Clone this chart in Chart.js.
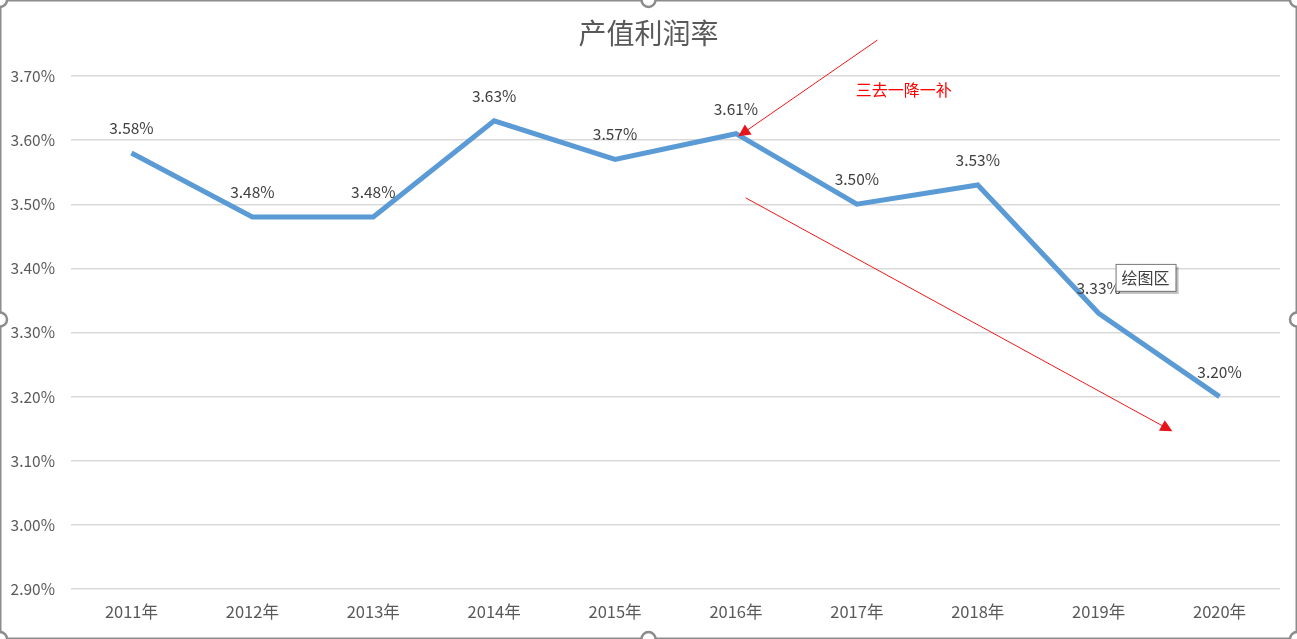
<!DOCTYPE html>
<html>
<head>
<meta charset="utf-8">
<script src="https://cdn.jsdelivr.net/npm/chart.js@4"></script>
<style>
  html, body { margin: 0; padding: 0; background: #fff; }
  #wrap { width: 1297px; height: 639px; position: relative; }
</style>
</head>
<body>
<div id="wrap"><canvas id="lineChart" width="1297" height="639"></canvas></div>
<script>
// data
var years = ['2011年', '2012年', '2013年', '2014年', '2015年', '2016年', '2017年', '2018年', '2019年', '2020年'];
var rates = [3.58, 3.48, 3.48, 3.63, 3.57, 3.61, 3.50, 3.53, 3.33, 3.20];
var yMin = 2.9, yMax = 3.7, yStep = 0.1;
var titleText = '产值利润率';

// annotations in data space: [index, value]
var arrows = [
  { from: [6.17, 3.756], to: [5.02, 3.606] },
  { from: [5.08, 3.51], to: [8.61, 3.146] }
];
var noteText = '三去一降一补';
var notePos = [5.99, 3.678];
var boxText = '绘图区';
var boxPos = [8.14, 3.407];

var FONT = "'Noto Sans CJK SC', 'Noto Sans', sans-serif";

function px(chart, p) {
  return { x: chart.scales.x.getPixelForValue(p[0]), y: chart.scales.y.getPixelForValue(p[1]) };
}

var labelPlugin = {
  id: 'pointLabels',
  afterDatasetsDraw: function (chart) {
    var ctx = chart.ctx;
    var meta = chart.getDatasetMeta(0);
    ctx.save();
    ctx.font = '15.5px ' + FONT;
    ctx.fillStyle = '#404040';
    ctx.textAlign = 'center';
    ctx.textBaseline = 'middle';
    meta.data.forEach(function (pt, i) {
      ctx.fillText(rates[i].toFixed(2) + '%', pt.x, pt.y - 25);
    });
    ctx.restore();
  }
};

var extrasPlugin = {
  id: 'extras',
  afterDraw: function (chart) {
    var ctx = chart.ctx;
    var W = chart.width, H = chart.height;
    ctx.save();
    // title, centred on the whole chart
    ctx.font = '28px ' + FONT;
    ctx.fillStyle = '#595959';
    ctx.textAlign = 'center';
    ctx.textBaseline = 'middle';
    ctx.fillText(titleText, W / 2, 33);
    // red arrows
    arrows.forEach(function (a) {
      var f = px(chart, a.from), t = px(chart, a.to);
      var ang = Math.atan2(t.y - f.y, t.x - f.x);
      ctx.strokeStyle = '#f01818';
      ctx.lineWidth = 1;
      ctx.beginPath();
      ctx.moveTo(f.x, f.y);
      ctx.lineTo(t.x - 8 * Math.cos(ang), t.y - 8 * Math.sin(ang));
      ctx.stroke();
      ctx.fillStyle = '#e8141c';
      ctx.beginPath();
      ctx.moveTo(t.x, t.y);
      ctx.lineTo(t.x - 12 * Math.cos(ang) + 6 * Math.sin(ang), t.y - 12 * Math.sin(ang) - 6 * Math.cos(ang));
      ctx.lineTo(t.x - 12 * Math.cos(ang) - 6 * Math.sin(ang), t.y - 12 * Math.sin(ang) + 6 * Math.cos(ang));
      ctx.closePath();
      ctx.fill();
    });
    // note text
    var n = px(chart, notePos);
    ctx.font = '16px ' + FONT;
    ctx.fillStyle = '#ff0000';
    ctx.textAlign = 'left';
    ctx.textBaseline = 'middle';
    ctx.fillText(noteText, n.x, n.y);
    // "plot area" tip box
    var b = px(chart, boxPos);
    ctx.font = '16px ' + FONT;
    var w = ctx.measureText(boxText).width + 12;
    ctx.fillStyle = 'rgba(0,0,0,0.25)';
    ctx.fillRect(b.x + 3, b.y + 3, w, 27);
    ctx.fillStyle = '#fff';
    ctx.fillRect(b.x, b.y, w, 27);
    ctx.strokeStyle = '#767676';
    ctx.strokeRect(b.x + 0.5, b.y + 0.5, w, 27);
    ctx.fillStyle = '#404040';
    ctx.fillText(boxText, b.x + 6, b.y + 14);
    // selection frame and handles
    ctx.strokeStyle = '#8c8c8c';
    ctx.lineWidth = 1.5;
    ctx.strokeRect(0.75, 0.75, W - 1.5, H - 1.5);
    [[0, 0], [W / 2, 0], [W, 0], [0, H / 2], [W, H / 2], [0, H], [W / 2, H], [W, H]].forEach(function (h) {
      ctx.beginPath();
      ctx.arc(h[0], h[1], 7, 0, Math.PI * 2);
      ctx.fillStyle = '#fff';
      ctx.fill();
      ctx.lineWidth = 2.5;
      ctx.strokeStyle = '#8c8c8c';
      ctx.stroke();
    });
    ctx.restore();
  }
};

var ctx = document.getElementById('lineChart').getContext('2d');
var chart = new Chart(ctx, {
  type: 'line',
  data: {
    labels: years,
    datasets: [{
      label: titleText,
      data: rates,
      borderColor: '#5b9bd5',
      borderWidth: 5,
      pointRadius: 0,
      tension: 0,
      fill: false
    }]
  },
  options: {
    responsive: false,
    animation: false,
    layout: { padding: { top: 76, right: 17, bottom: 0, left: 0 } },
    plugins: {
      legend: { display: false },
      tooltip: { enabled: false },
      title: { display: false }
    },
    scales: {
      x: {
        offset: true,
        grid: { display: false, drawTicks: false },
        border: { display: false },
        afterFit: function (s) { s.height = 50; },
        ticks: { color: '#595959', font: { size: 16.5, family: FONT }, padding: 13 }
      },
      y: {
        min: yMin,
        max: yMax,
        grid: { color: '#d9d9d9', lineWidth: 1.5, drawTicks: false },
        border: { display: false },
        afterFit: function (s) { s.width = 71; },
        ticks: {
          stepSize: yStep,
          color: '#595959',
          font: { size: 15.5, family: FONT },
          padding: 16,
          callback: function (v) { return v.toFixed(2) + '%'; }
        }
      }
    }
  },
  plugins: [labelPlugin, extrasPlugin]
});
</script>
</body>
</html>
